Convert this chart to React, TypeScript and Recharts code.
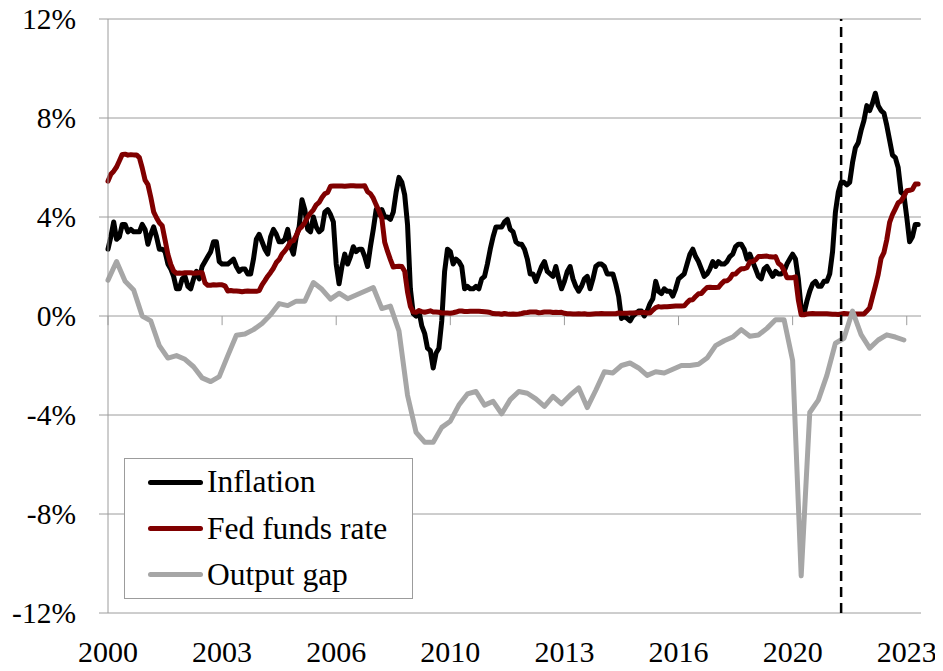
import React from "react"
import {
  LineChart,
  Line,
  XAxis,
  YAxis,
  CartesianGrid,
  ReferenceLine,
  Legend,
} from "recharts"

// monthly, Jan 2000 .. Sep 2023 (index = months since Jan 2000)
const inflation = [
  2.7, 3.2, 3.8, 3.1, 3.2, 3.7, 3.7, 3.4, 3.5, 3.4, 3.4, 3.4, // 2000
  3.7, 3.5, 2.9, 3.3, 3.6, 3.2, 2.7, 2.7, 2.6, 2.1, 1.9, 1.6, // 2001
  1.1, 1.1, 1.5, 1.6, 1.2, 1.1, 1.5, 1.8, 1.5, 2.0, 2.2, 2.4, // 2002
  2.6, 3.0, 3.0, 2.2, 2.1, 2.1, 2.1, 2.2, 2.3, 2.0, 1.8, 1.9, // 2003
  1.9, 1.7, 1.7, 2.3, 3.1, 3.3, 3.0, 2.7, 2.5, 3.2, 3.5, 3.3, // 2004
  3.0, 3.0, 3.1, 3.5, 2.8, 2.5, 3.2, 3.6, 4.7, 4.3, 3.5, 3.4, // 2005
  4.0, 3.6, 3.4, 3.5, 4.2, 4.3, 4.1, 3.8, 2.1, 1.3, 2.0, 2.5, // 2006
  2.1, 2.4, 2.8, 2.6, 2.7, 2.7, 2.4, 2.0, 2.8, 3.5, 4.3, 4.1, // 2007
  4.3, 4.0, 4.0, 3.9, 4.2, 5.0, 5.6, 5.4, 4.9, 3.7, 1.1, 0.1, // 2008
  0.0, 0.2, -0.4, -0.7, -1.3, -1.4, -2.1, -1.5, -1.3, -0.2, 1.8, 2.7, // 2009
  2.6, 2.1, 2.3, 2.2, 2.0, 1.1, 1.2, 1.1, 1.1, 1.2, 1.1, 1.5, // 2010
  1.6, 2.1, 2.7, 3.2, 3.6, 3.6, 3.6, 3.8, 3.9, 3.5, 3.4, 3.0, // 2011
  2.9, 2.9, 2.7, 2.3, 1.7, 1.7, 1.4, 1.7, 2.0, 2.2, 1.8, 1.7, // 2012
  1.6, 2.0, 1.5, 1.1, 1.4, 1.8, 2.0, 1.5, 1.2, 1.0, 1.2, 1.5, // 2013
  1.6, 1.1, 1.5, 2.0, 2.1, 2.1, 2.0, 1.7, 1.7, 1.7, 1.3, 0.8, // 2014
  -0.1, 0.0, -0.1, -0.2, 0.0, 0.1, 0.2, 0.2, 0.0, 0.2, 0.5, 0.7, // 2015
  1.4, 1.0, 0.9, 1.1, 1.0, 1.0, 0.8, 1.1, 1.5, 1.6, 1.7, 2.1, // 2016
  2.5, 2.7, 2.4, 2.2, 1.9, 1.6, 1.7, 1.9, 2.2, 2.0, 2.2, 2.1, // 2017
  2.1, 2.2, 2.4, 2.5, 2.8, 2.9, 2.9, 2.7, 2.3, 2.5, 2.2, 1.9, // 2018
  1.6, 1.5, 1.9, 2.0, 1.8, 1.6, 1.8, 1.7, 1.7, 1.8, 2.1, 2.3, // 2019
  2.5, 2.3, 1.5, 0.3, 0.1, 0.6, 1.0, 1.3, 1.4, 1.2, 1.2, 1.4, // 2020
  1.4, 1.7, 2.6, 4.2, 5.0, 5.4, 5.4, 5.3, 5.4, 6.2, 6.8, 7.0, // 2021
  7.5, 7.9, 8.5, 8.3, 8.6, 9.0, 8.5, 8.3, 8.2, 7.7, 7.1, 6.5, // 2022
  6.4, 6.0, 5.0, 4.9, 4.0, 3.0, 3.2, 3.7, 3.7, // 2023
]

const fedFunds = [
  5.45, 5.73, 5.85, 6.02, 6.27, 6.53, 6.54, 6.5, 6.52, 6.51, 6.51, 6.4, // 2000
  5.98, 5.49, 5.31, 4.8, 4.21, 3.97, 3.77, 3.65, 3.07, 2.49, 2.09, 1.82, // 2001
  1.73, 1.74, 1.73, 1.75, 1.75, 1.75, 1.73, 1.74, 1.75, 1.75, 1.34, 1.24, // 2002
  1.24, 1.26, 1.25, 1.26, 1.26, 1.22, 1.01, 1.03, 1.01, 1.01, 1.0, 0.98, // 2003
  1.0, 1.01, 1.0, 1.0, 1.0, 1.03, 1.26, 1.43, 1.61, 1.76, 1.93, 2.16, // 2004
  2.28, 2.5, 2.63, 2.79, 3.0, 3.04, 3.26, 3.5, 3.62, 3.78, 4.0, 4.16, // 2005
  4.29, 4.49, 4.59, 4.79, 4.94, 4.99, 5.24, 5.25, 5.25, 5.25, 5.25, 5.24, // 2006
  5.25, 5.26, 5.26, 5.25, 5.25, 5.25, 5.26, 5.02, 4.94, 4.76, 4.49, 4.24, // 2007
  3.94, 2.98, 2.61, 2.28, 1.98, 2.0, 2.01, 2.0, 1.81, 0.97, 0.39, 0.16, // 2008
  0.15, 0.22, 0.18, 0.15, 0.18, 0.21, 0.16, 0.16, 0.15, 0.12, 0.12, 0.12, // 2009
  0.11, 0.13, 0.16, 0.2, 0.2, 0.18, 0.18, 0.19, 0.19, 0.19, 0.19, 0.18, // 2010
  0.17, 0.16, 0.14, 0.1, 0.09, 0.09, 0.07, 0.1, 0.08, 0.07, 0.08, 0.07, // 2011
  0.08, 0.1, 0.13, 0.14, 0.16, 0.16, 0.16, 0.13, 0.14, 0.16, 0.16, 0.16, // 2012
  0.14, 0.15, 0.14, 0.15, 0.11, 0.09, 0.09, 0.08, 0.08, 0.09, 0.08, 0.09, // 2013
  0.07, 0.07, 0.08, 0.09, 0.09, 0.1, 0.09, 0.09, 0.09, 0.09, 0.09, 0.12, // 2014
  0.11, 0.11, 0.11, 0.12, 0.12, 0.13, 0.13, 0.14, 0.14, 0.12, 0.12, 0.24, // 2015
  0.34, 0.38, 0.36, 0.37, 0.37, 0.38, 0.39, 0.4, 0.4, 0.4, 0.41, 0.54, // 2016
  0.65, 0.66, 0.79, 0.9, 0.91, 1.04, 1.15, 1.16, 1.15, 1.15, 1.16, 1.3, // 2017
  1.41, 1.42, 1.51, 1.69, 1.7, 1.82, 1.91, 1.91, 1.95, 2.19, 2.2, 2.27, // 2018
  2.4, 2.4, 2.41, 2.42, 2.39, 2.38, 2.4, 2.13, 2.04, 1.83, 1.55, 1.55, // 2019
  1.55, 1.58, 0.65, 0.05, 0.05, 0.08, 0.09, 0.1, 0.09, 0.09, 0.09, 0.09, // 2020
  0.09, 0.08, 0.07, 0.07, 0.06, 0.08, 0.1, 0.09, 0.08, 0.08, 0.08, 0.08, // 2021
  0.08, 0.08, 0.2, 0.33, 0.77, 1.21, 1.68, 2.33, 2.56, 3.08, 3.78, 4.1, // 2022
  4.33, 4.57, 4.65, 4.83, 5.06, 5.08, 5.12, 5.33, 5.33, // 2023
]

// quarterly, 2000Q1 .. 2023Q2
const outputGap = [
  1.45, 2.2, 1.4, 1.05, // 2000
  0.0, -0.2, -1.2, -1.7, // 2001
  -1.6, -1.75, -2.05, -2.5, // 2002
  -2.65, -2.45, -1.6, -0.78, // 2003
  -0.73, -0.55, -0.3, 0.05, // 2004
  0.5, 0.42, 0.6, 0.6, // 2005
  1.35, 1.08, 0.68, 0.92, // 2006
  0.7, 0.85, 1.0, 1.15, // 2007
  0.3, 0.4, -0.6, -3.2, // 2008
  -4.7, -5.1, -5.1, -4.5, // 2009
  -4.25, -3.6, -3.15, -3.05, // 2010
  -3.6, -3.45, -3.95, -3.38, // 2011
  -3.05, -3.12, -3.35, -3.65, // 2012
  -3.25, -3.55, -3.2, -2.9, // 2013
  -3.7, -3.0, -2.25, -2.3, // 2014
  -2.0, -1.9, -2.1, -2.4, // 2015
  -2.25, -2.3, -2.15, -2.0, // 2016
  -2.0, -1.95, -1.7, -1.2, // 2017
  -1.0, -0.85, -0.55, -0.82, // 2018
  -0.77, -0.5, -0.15, -0.15, // 2019
  -1.8, -10.5, -3.9, -3.4, // 2020
  -2.4, -1.1, -0.9, 0.2, // 2021
  -0.75, -1.3, -0.97, -0.76, // 2022
  -0.85, -0.97, // 2023
]

const xTicks = [0, 40, 80, 120, 160, 200, 240, 280]
const yTicks = [-12, -8, -4, 0, 4, 8, 12]
const markerMonth = 257 // June 2021

const series = [
  { key: "inflation", name: "Inflation", color: "#000000" },
  { key: "fedFunds", name: "Fed funds rate", color: "#800000" },
  { key: "outputGap", name: "Output gap", color: "#A6A6A6" },
]

const data = inflation.map((v, i) => ({
  m: i,
  inflation: v,
  fedFunds: fedFunds[i],
  outputGap: i % 3 === 0 ? outputGap[i / 3] : undefined,
}))

const FONT = "'Liberation Serif', 'Times New Roman', serif"
const GRID = "#9c9c9c"

const LegendBox = () => (
  <div
    style={{
      width: 289,
      height: 141,
      boxSizing: "border-box",
      border: `1px solid ${GRID}`,
      background: "#fff",
      fontFamily: FONT,
      fontSize: 31.5,
      color: "#000",
    }}
  >
    {series.map((s) => (
      <div key={s.key} style={{ height: 46.3, display: "flex", alignItems: "center" }}>
        <span
          style={{
            display: "inline-block",
            marginLeft: 23,
            width: 55,
            height: 5,
            borderRadius: 2.5,
            background: s.color,
          }}
        />
        <span style={{ marginLeft: 4, lineHeight: 1, whiteSpace: "nowrap" }}>{s.name}</span>
      </div>
    ))}
  </div>
)

export default function App() {
  return (
    <div
      style={{
        position: "relative",
        width: 935,
        height: 671,
        marginTop: -8,
        background: "#fff",
      }}
    >
      <LineChart
        width={935}
        height={671}
        data={data}
        margin={{ top: 19, right: 22, bottom: 0, left: 0 }}
      >
        <CartesianGrid vertical={false} stroke={GRID} />
        <XAxis
          dataKey="m"
          type="number"
          domain={[0, 285]}
          ticks={xTicks}
          tickFormatter={(m: number) => String(2000 + Math.floor(m / 12))}
          axisLine={false}
          tickLine={false}
          tickSize={0}
          tickMargin={27.5}
          height={58}
          interval={0}
          tick={{ fontFamily: FONT, fontSize: 30, fill: "#000" }}
        />
        <YAxis
          type="number"
          domain={[-12, 12]}
          ticks={yTicks}
          tickFormatter={(v: number) => `${v}%`}
          width={100}
          axisLine={{ stroke: GRID }}
          tickLine={{ stroke: GRID }}
          tickSize={9}
          tickMargin={23}
          interval={0}
          tick={{ fontFamily: FONT, fontSize: 29.5, fill: "#000" }}
        />
        {xTicks.map((t) => (
          <ReferenceLine
            key={t}
            segment={[
              { x: t, y: 0 },
              { x: t, y: -0.37 },
            ]}
            stroke={GRID}
          />
        ))}
        {series.map((s) => (
          <Line
            key={s.key}
            type="linear"
            dataKey={s.key}
            name={s.name}
            stroke={s.color}
            strokeWidth={5}
            strokeLinejoin="round"
            strokeLinecap="round"
            dot={false}
            activeDot={false}
            connectNulls
            isAnimationActive={false}
          />
        ))}
        <ReferenceLine
          x={markerMonth}
          stroke="#000"
          strokeWidth={2.5}
          strokeDasharray="10 6"
        />
        <Legend
          layout="vertical"
          align="center"
          verticalAlign="middle"
          wrapperStyle={{ left: 116, top: 458, width: 289, height: 141 }}
          content={() => <LegendBox />}
        />
      </LineChart>
    </div>
  )
}
